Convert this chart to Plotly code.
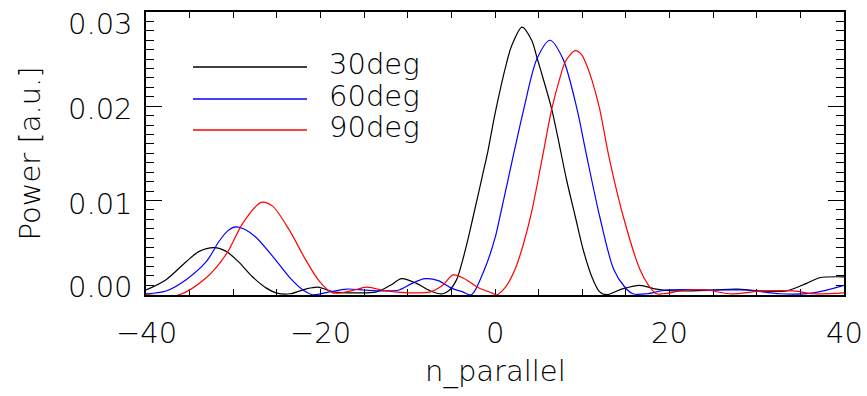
import plotly.graph_objects as go

# ---- data ----
series_names = ["30deg", "60deg", "90deg"]
series_colors = ["#000000", "#0000ff", "#ff0000"]

x_30 = [-40, -37.7, -35.4, -33.9, -32.2, -30.8, -29.3, -27.8, -26.2, -25.1, -23.5, -21.7, -20.3,
        -18.5, -16, -13.6, -12, -10.7, -9, -7.4, -6, -5.2, -4.4, -4.0, -3.2, -2.5, -1.4, -0.8, 0,
        1.3, 1.9, 3.1, 4.2, 4.8, 5.5, 6.5, 7.4, 8.2, 9.2, 10.1, 11.1, 12.0, 12.8, 14.5, 16.6, 18.5,
        21.2, 25, 27.7, 30.4, 33.4, 35.7, 37.2, 40]
y_30 = [0.0005, 0.0016, 0.0035, 0.0046, 0.0050, 0.0046, 0.0034, 0.0019, 0.0007, 0.0002, 0.0001,
        0.0006, 0.0008, 0.0003, 0.0002, 0.0003, 0.0010, 0.0017, 0.0012, 0.0004, 0.0001, 0.0005,
        0.0016, 0.0027, 0.0055, 0.0083, 0.0128, 0.0153, 0.0192, 0.0245, 0.0264, 0.0284, 0.0270,
        0.0252, 0.0230, 0.0197, 0.0158, 0.0122, 0.0083, 0.0048, 0.0019, 0.0003, 0.0000, 0.0006,
        0.0010, 0.0006, 0.0004, 0.0005, 0.0006, 0.0004, 0.0004, 0.0012, 0.0018, 0.0019]

x_60 = [-40, -37.7, -35.4, -33.1, -31.6, -30.6, -29.7, -28.6, -27.4, -25.5, -23.6, -22.0, -20.9,
        -19, -17, -15, -13, -11, -9.5, -8.0, -6.5, -5, -3.7, -2.7, -1.2, 0, 0.5, 2.2, 3.3, 4.8,
        6.3, 7.8, 9.4, 10.4, 12.0, 13.6, 14.8, 15.8, 17.4, 19.7, 25, 28.8, 32.7, 36.5, 40]
y_60 = [0.0001, 0.0004, 0.0016, 0.0035, 0.0057, 0.0068, 0.0072, 0.0069, 0.0061, 0.0041, 0.0019,
        0.0005, 0.0000, 0.0003, 0.0006, 0.0005, 0.0004, 0.0005, 0.0012, 0.0017, 0.0015, 0.0007,
        0.0003, 0.0000, 0.0027, 0.0060, 0.0080, 0.0152, 0.0197, 0.0250, 0.0270, 0.0250, 0.0197,
        0.0152, 0.0083, 0.0027, 0.0009, 0.0001, 0.0001, 0.0005, 0.0005, 0.0005, 0.0001, 0.0002,
        0.0010]

x_90 = [-40, -36.2, -33.1, -30.8, -28.9, -26.8, -25.5, -23.6, -21.7, -20.1, -18.6, -16.5, -14.7,
        -12.5, -10, -7.4, -6, -4.8, -3.5, -2.0, -0.4, 0.2, 1.2, 2.3, 3.2, 4.2, 5.5, 6.5, 7.5, 8.1,
        9.2, 9.9, 10.4, 11.1, 12.0, 13.0, 14.7, 16.6, 17.6, 18.5, 19.3, 22, 24.3, 26.9, 30.7,
        34.2, 36.5, 40]
y_90 = [0.0000, 0.0000, 0.0018, 0.0043, 0.0076, 0.0098, 0.0094, 0.0069, 0.0037, 0.0014, 0.0002,
        0.0004, 0.0008, 0.0004, 0.0002, 0.0003, 0.0010, 0.0021, 0.0017, 0.0008, 0.0002, 0.0000,
        0.0008, 0.0027, 0.0052, 0.0088, 0.0149, 0.0197, 0.0232, 0.0248, 0.0259, 0.0255, 0.0246,
        0.0228, 0.0197, 0.0149, 0.0083, 0.0027, 0.0010, 0.0001, 0.0001, 0.0005, 0.0005, 0.0001,
        0.0004, 0.0004, 0.0001, 0.0002]

x_tick_vals = [-40, -20, 0, 20, 40]
x_tick_text = ["\u221240", "\u221220", "0", "20", "40"]
y_tick_vals = [0.00, 0.01, 0.02, 0.03]
y_tick_text = ["0.00", "0.01", "0.02", "0.03"]
y_label_yshift = [8, -4, -3, -12]   # vertical nudges of the IDL-style labels (px, + = up)
x_title = "n_parallel"
y_title = "Power [a.u.]"

FONT = "DejaVu Sans"
FS = 29
TXT = "#000000"
FW = 200

def tfont():
    return dict(family=FONT, size=FS, color=TXT, weight=FW)

fig = go.Figure()
for xs, ys, name, col in zip([x_30, x_60, x_90], [y_30, y_60, y_90], series_names, series_colors):
    fig.add_trace(go.Scatter(x=xs, y=ys, mode="lines", name=name,
                             line=dict(color=col, width=1.2, shape="spline", smoothing=0.85),
                             showlegend=False, hoverinfo="skip"))

# legend drawn as short lines + labels (IDL style)
leg_y = [0.8057, 0.6926, 0.583]
for yy, name, col in zip(leg_y, series_names, series_colors):
    fig.add_shape(type="line", xref="paper", yref="paper", x0=0.0673, x1=0.2307, y0=yy, y1=yy,
                  line=dict(color=col, width=1.4))
    fig.add_annotation(xref="paper", yref="paper", x=0.2593, y=yy + 0.009, text=name,
                       showarrow=False, xanchor="left", yanchor="middle", font=tfont())

# tick labels (placed like the IDL output)
for v, t in zip(x_tick_vals, x_tick_text):
    fig.add_annotation(xref="x", yref="paper", x=v, y=-0.133, text=t, showarrow=False,
                       xanchor="center", yanchor="middle", font=tfont())
for v, t, s in zip(y_tick_vals, y_tick_text, y_label_yshift):
    fig.add_annotation(xref="paper", yref="y", x=-0.016, y=v, yshift=s, text=t, showarrow=False,
                       xanchor="right", yanchor="middle", font=tfont())

# axis titles
fig.add_annotation(xref="paper", yref="paper", x=0.5, y=-0.27, text=x_title, showarrow=False,
                   xanchor="center", yanchor="middle", font=tfont())
fig.add_annotation(xref="paper", yref="paper", x=-0.1676, y=0.5, text=y_title, showarrow=False,
                   textangle=-90, xanchor="center", yanchor="middle", font=tfont())

fig.update_layout(
    width=867, height=396,
    margin=dict(l=146, r=23, t=12, b=101),
    paper_bgcolor="white", plot_bgcolor="white",
    font=tfont(),
)
fig.update_xaxes(
    range=[-40, 40], tickvals=x_tick_vals, showticklabels=False, automargin=False,
    showgrid=False, zeroline=False,
    showline=True, linecolor="black", linewidth=1.5, mirror="allticks",
    ticks="inside", ticklen=6, tickwidth=1.2, tickcolor="black",
    minor=dict(dtick=5, ticks="inside", ticklen=6, tickwidth=1.2, tickcolor="black", showgrid=False),
    layer="below traces",
)
fig.update_yaxes(
    range=[-0.00003, 0.0300], tickvals=y_tick_vals, showticklabels=False, automargin=False,
    showgrid=False, zeroline=False, showline=True, linecolor="black", linewidth=1.5,
    mirror="allticks",
    ticks="inside", ticklen=16, tickwidth=1.2, tickcolor="black",
    minor=dict(dtick=0.001, tick0=0, ticks="inside", ticklen=8, tickwidth=1.2, tickcolor="black",
               showgrid=False),
    layer="below traces",
)

fig.write_html("out.html", config={"displayModeBar": False},
               post_script="document.body.style.margin='0';")
